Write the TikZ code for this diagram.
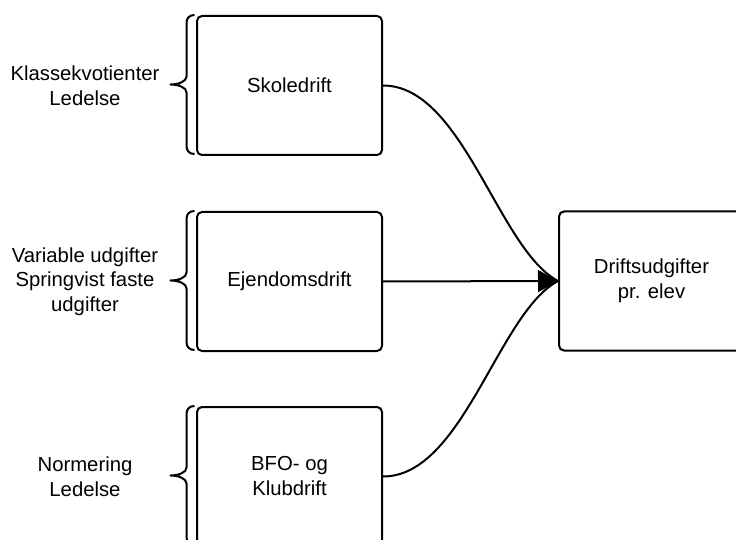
\documentclass[tikz,border=0pt]{standalone}
\usepackage{fontspec}
\setmainfont{Liberation Sans}
\usetikzlibrary{arrows.meta}
\begin{document}
\begin{tikzpicture}[x=1pt,y=-1pt,
  box/.style={draw,line width=2pt,rounded corners=5pt,minimum width=185pt,minimum height=139pt,
    align=center,inner sep=0pt,font=\fontsize{20.3}{25}\selectfont},
  lbl/.style={align=center,inner sep=0pt,font=\fontsize{20.3}{24.5}\selectfont},
  brace/.style={line width=2pt,line join=round},
  link/.style={line width=2pt}]
\useasboundingbox (0,0) rectangle (736,540);
\node[box] (b1) at (289.5,85.5) {Skoledrift};
\node[box] (b2) at (289.5,281.5) {Ejendomsdrift};
\node[box] (b3) at (289.5,476.5) {BFO- og\\Klubdrift};
\node[box] (d) at (651.5,281) {Driftsudgifter\\pr. elev};
\node[lbl] (l1) at (85,85.5) {Klassekvotienter\\Ledelse};
\node[lbl] (l2) at (85,281.5) {Variable udgifter\\Springvist faste\\udgifter};
\node[lbl] (l3) at (85,476.5) {Normering\\Ledelse};
\foreach \n in {b1,b2,b3}{
  \draw[brace] ([xshift=-1.5pt]\n.north west)
    .. controls +(-5,0) and +(0,-5) .. ++(-8,8)
    -- ++(0,53.5)
    .. controls +(0,5) and +(8,0) .. ++(-16,8)
    .. controls +(8,0) and +(0,-5) .. ++(16,8)
    -- ++(0,53.5)
    .. controls +(0,5) and +(-5,0) .. ++(8,8);
}
\draw[link] (b1.east) .. controls +(80,0) and +(-60,-32) .. (d.west);
\draw[link] (b3.east) .. controls +(80,0) and +(-60,32) .. (d.west);
\draw[link,-{Triangle[length=20pt,width=22pt]}] (b2.east) -- (d.west);
\end{tikzpicture}
\end{document}
